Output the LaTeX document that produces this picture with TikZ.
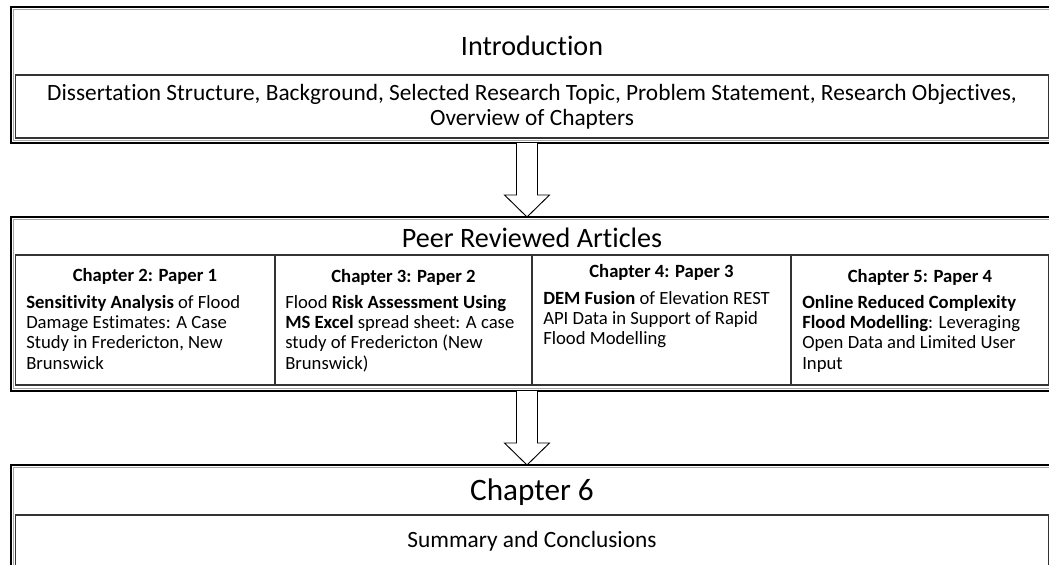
\documentclass[tikz,border=0pt]{standalone}
\usepackage{fontspec}
\setmainfont{Carlito}[Ligatures=NoCommon]
\usetikzlibrary{calc,fit}
\tikzset{
  outerbox/.style={draw=black, line width=1.5pt, inner sep=0pt, outer sep=0pt},
  shadowline/.style={draw=black!35, line width=1pt},
  innerbox/.style={draw=black!80, line width=0.8pt, inner sep=0pt, outer sep=0pt},
  divider/.style={draw=black!80, line width=0.8pt},
  blockarrow/.style={draw=black, fill=white, line width=0.7pt, line join=miter},
  bigtitle/.style={font=\fontsize{21.1}{24}\selectfont, inner sep=0pt, anchor=base},
  chaptitle/.style={font=\fontsize{23.4}{27}\selectfont, inner sep=0pt, anchor=base},
  bodytext/.style={font=\fontsize{17.5}{18.75}\selectfont, inner sep=0pt, anchor=base},
  coltitle/.style={font=\fontsize{14}{15.3}\selectfont\bfseries, inner sep=0pt, anchor=base},
  colbody/.style={font=\fontsize{14}{15.3}\selectfont, inner sep=0pt, anchor=base west},
}
\begin{document}
\begin{tikzpicture}[x=0.75pt,y=-0.75pt]
\clip (0,0) rectangle (1049,564);
\fill[white] (0,0) rectangle (1049,564);

% ---- Box 1: Introduction
\node[outerbox, fit={(11,7)(1053,143)}] (intro) {};
\draw[shadowline] ($(intro.north west)+(2.3,2.3)$) rectangle ($(intro.south east)+(-2.3,-2.3)$);
\node[innerbox, fit={(15.5,75)(1048.5,138)}] (introin) {};
\node[bigtitle] (introtitle) at (532,55) {Introduction};
\node[bodytext] (introtext) at (532,100) {\parbox[t]{770pt}{\centering Dissertation Structure, Background, Selected Research Topic, Problem Statement, Research Objectives,\\ Overview of Chapters}};

% ---- Box 2: Peer Reviewed Articles
\node[outerbox, fit={(11,217)(1053,391)}] (peer) {};
\draw[shadowline] ($(peer.north west)+(2.3,2.3)$) rectangle ($(peer.south east)+(-2.3,-2.3)$);
\node[innerbox, fit={(15.5,255)(1048.5,385)}] (peerin) {};
\node[bigtitle] (peertitle) at (532,247) {Peer Reviewed Articles};
\coordinate (d1) at (275,0);
\coordinate (d2) at (532,0);
\coordinate (d3) at (791,0);
\draw[divider] (peerin.north -| d1) -- (peerin.south -| d1);
\draw[divider] (peerin.north -| d2) -- (peerin.south -| d2);
\draw[divider] (peerin.north -| d3) -- (peerin.south -| d3);

\node[coltitle] (t1) at (145,281) {Chapter 2: Paper 1};
\node[colbody] (b1) at (26,308) {\parbox[t]{190pt}{\textbf{Sensitivity Analysis} of Flood\\ Damage Estimates: A Case\\ Study in Fredericton, New\\ Brunswick}};
\node[coltitle] (t2) at (403.5,282) {Chapter 3: Paper 2};
\node[colbody] (b2) at (285,308) {\parbox[t]{190pt}{Flood \textbf{Risk Assessment Using}\\ \textbf{MS Excel} spread sheet: A case\\ study of Fredericton (New\\ Brunswick)}};
\node[coltitle] (t3) at (661.5,277) {Chapter 4: Paper 3};
\node[colbody] (b3) at (543,304) {\parbox[t]{190pt}{\textbf{DEM Fusion} of Elevation REST\\ API Data in Support of Rapid\\ Flood Modelling}};
\node[coltitle] (t4) at (920,282) {Chapter 5: Paper 4};
\node[colbody] (b4) at (802,308) {\parbox[t]{190pt}{\textbf{Online Reduced Complexity}\\ \textbf{Flood Modelling}: Leveraging\\ Open Data and Limited User\\ Input}};

% ---- Box 3: Chapter 6
\node[outerbox, fit={(11,465)(1053,640)}] (chap) {};
\draw[shadowline] ($(chap.north west)+(2.3,2.3)$) rectangle ($(chap.south east)+(-2.3,-2.3)$);
\node[innerbox, fit={(15.5,515)(1048.5,635)}] (chapin) {};
\node[chaptitle] (chaptitle) at (532,500) {Chapter 6};
\node[bodytext] (chaptext) at (532,547) {Summary and Conclusions};

% ---- Block arrows
\coordinate (a1s) at ($(intro.south)+(-5,0)$);
\coordinate (a1e) at ($(peer.north)+(-5,0)$);
\draw[blockarrow] ($(a1s)+(-10.5,0)$) -- ($(a1e)+(-10.5,-22)$) -- ($(a1e)+(-22.5,-22)$) -- (a1e)
  -- ($(a1e)+(22.5,-22)$) -- ($(a1e)+(10.5,-22)$) -- ($(a1s)+(10.5,0)$);
\coordinate (a2s) at ($(peer.south)+(-5,0)$);
\coordinate (a2e) at ($(chap.north)+(-5,0)$);
\draw[blockarrow] ($(a2s)+(-10.5,0)$) -- ($(a2e)+(-10.5,-22)$) -- ($(a2e)+(-22.5,-22)$) -- (a2e)
  -- ($(a2e)+(22.5,-22)$) -- ($(a2e)+(10.5,-22)$) -- ($(a2s)+(10.5,0)$);
\end{tikzpicture}
\end{document}
